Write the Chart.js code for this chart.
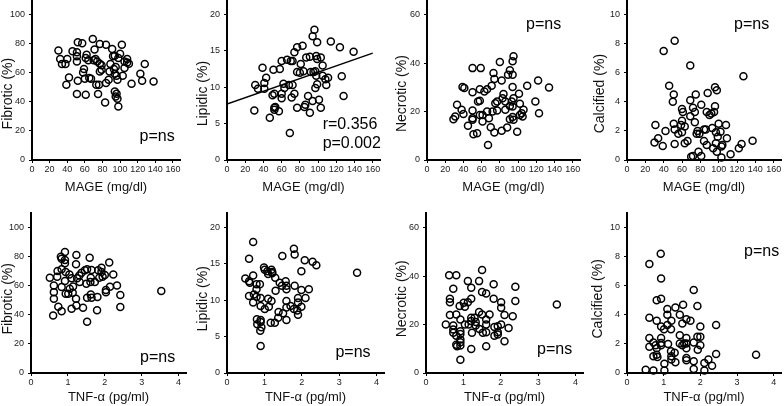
<!DOCTYPE html>
<html>
<head>
<meta charset="utf-8">
<script src="https://cdn.jsdelivr.net/npm/chart.js@4.4.1/dist/chart.umd.min.js"></script>
<style>
body { margin: 0; background: #fff; width: 784px; height: 406px; position: relative; overflow: hidden; }
canvas { position: absolute; }
</style>
</head>
<body>
<canvas id="c1"></canvas><canvas id="c2"></canvas><canvas id="c3"></canvas><canvas id="c4"></canvas>
<canvas id="c5"></canvas><canvas id="c6"></canvas><canvas id="c7"></canvas><canvas id="c8"></canvas>
<script>
// MAGE (mg/dl) vs plaque composition
var fibMageX = [30,32,34,38,40,39,42,46,51,51,51,52,57,52,51,58,59,61,60,62,61,64,65,67,69,70,72,71,74,77,77,73,76,75,77,79,79,84,84,83,87,88,89,91,92,94,93,95,94,94,95,96,97,96,97,98,98,100,102,103,105,105,108,108,110,113,123,125,128,138];
var fibMageY = [75.2,69.4,66,66,69.4,51.7,56.8,74.7,74,71.3,67.8,80.9,80.2,54.5,45.3,60.2,62.5,44.8,55.9,72.4,70.1,68.5,56.3,55.9,83.2,68.5,69.4,75.9,67.8,66.2,79.8,51.7,51.7,45.3,60.9,62.1,65.1,79.3,52.9,39.5,55.2,60.9,66,76.3,71.3,71.7,62.5,63.9,59.3,47.1,43.7,45.5,42.1,57.9,55.2,36.8,70.1,73.1,79.3,57.9,63.2,67.8,67.1,69.4,66.2,52.4,59.3,54.5,66,54];

var lipMageX = [30,31,34,39,41,41,43,47,51,50,52,52,52,53,57,58,60,60,60,62,63,66,68,70,72,72,69,71,74,74,77,77,80,77,81,83,84,85,86,87,89,91,91,92,94,96,95,94,97,97,98,99,99,98,99,101,103,103,105,105,108,109,111,114,124,126,128,139];
var lipMageY = [6.8,10.3,9.8,12.7,10.6,9.8,11.3,5.8,12.4,8.9,9.1,7.2,6.9,7.3,6.7,12.5,13.6,8.5,9.1,10.5,9.9,13.8,10.3,13.6,13.6,10.3,3.7,8.6,14.8,9.1,15.5,12.1,12,7.2,13.2,15.7,12.2,7.3,7.6,14.1,8.8,14.2,6.5,12.1,17,17.9,12.1,8.1,12.2,9.9,14.3,16.2,13.9,11.6,10.4,8.3,14.1,7.2,13,11.6,11.1,10.3,11.3,16.3,15.5,11.5,8.8,14.9];
var lipFitX = [0, 160];
var lipFitY = [7.7, 14.7];

var necMageX = [29,31,33,38,39,41,40,45,50,50,50,50,50,51,55,56,58,58,59,58,61,61,63,66,66,68,67,70,71,72,73,74,74,75,77,77,80,82,83,84,82,86,86,88,89,91,91,91,94,95,94,94,93,94,95,95,94,99,101,102,102,104,105,106,110,119,122,123,134];
var necMageY = [16.8,17.9,22.8,20.7,30.1,29.7,19,14.1,37.9,27.9,20.4,17.2,16.6,10.6,11,24.1,24.4,18.6,37.9,29.2,18.6,15.9,28.3,29.2,20,17.2,6.2,13.5,30.6,20,35.9,33.4,11.3,23.4,24.1,20.4,40.4,32.8,25.5,27.2,12.1,24.1,20.7,13.4,35.2,37,22.3,16.8,40.7,42.8,35.2,30.1,24.1,22.1,25.5,16.6,17.7,11.7,27.3,23.2,18.6,19.3,17.9,20.7,30.6,24.1,32.8,19.3,29.9];

var calMageX = [30,31,34,39,40,42,46,50,51,51,52,52,52,56,59,60,61,60,60,63,63,66,69,69,69,70,72,72,74,74,75,76,77,79,78,81,81,84,84,86,87,87,88,90,92,93,94,95,96,96,97,98,97,98,99,100,102,103,103,104,108,109,113,122,125,127,137];
var calMageY = [1.2,2.4,1.5,0.97,7.5,2,5.1,4,4.5,2.5,2.1,1.1,8.2,1.8,2.4,3.5,3.3,2.7,1.9,2.3,1.15,1.3,6.5,4.1,3,0.23,0.28,3.6,3.3,2.6,4.5,1.8,2,1.8,0.57,0.28,3.8,2.1,1.3,2.1,1.03,3.3,4.6,3.1,3.2,2.2,0.8,3.3,3.7,5,1.9,4.8,1.15,0.57,1.6,2.5,1.95,0.92,0.18,1.03,2.4,1.5,0.4,0.8,1.1,5.75,1.33];

// TNF-a (pg/ml) vs plaque composition
var fibTnfX = [0.51,0.62,0.62,0.62,0.60,0.72,0.71,0.74,0.81,0.83,0.83,0.83,0.83,0.92,0.92,0.92,0.94,0.92,0.94,1.01,1.04,1.05,1.10,1.13,1.10,1.14,1.23,1.22,1.22,1.23,1.25,1.31,1.32,1.37,1.41,1.46,1.52,1.50,1.52,1.52,1.59,1.64,1.62,1.61,1.62,1.64,1.73,1.80,1.79,1.82,1.85,1.91,1.91,1.94,2.00,2.03,2.03,2.12,2.14,2.23,2.33,2.42,2.42,3.53];
var fibTnfY = [65.5,60.2,55.6,51,39.5,70.1,66.2,45.5,80,78.6,59.1,42.5,71.3,83.2,77.7,75.4,69.4,63.2,54.5,54.5,67.8,57.9,65.1,55.2,44.1,59.5,81.1,74.7,51,46.4,65.1,67.1,62.5,69,44.8,70.6,71.3,61.4,51.7,35.2,79.3,70.8,65.5,62.5,54,51.7,62.5,52.2,43.2,70.6,65.5,72.4,69.4,66.2,67.4,57,55.6,75.9,59.3,67.8,60.2,53.6,45.3,56.3];

var lipTnfX = [0.49,0.59,0.61,0.59,0.59,0.70,0.70,0.72,0.70,0.79,0.79,0.79,0.80,0.81,0.88,0.90,0.90,0.90,0.90,0.92,0.89,0.90,0.99,1.01,1.01,1.08,1.10,1.12,1.10,1.19,1.21,1.17,1.19,1.21,1.28,1.29,1.30,1.38,1.37,1.41,1.48,1.47,1.50,1.57,1.59,1.59,1.59,1.59,1.59,1.70,1.79,1.79,1.81,1.81,1.88,1.90,1.90,1.90,1.99,1.99,1.99,2.08,2.10,2.19,2.29,2.39,3.48];
var lipTnfY = [13,12.6,12.4,15.7,10.6,18,13.4,10.8,9.7,12.2,11.5,10.5,7.4,6.7,12.2,10.3,9.2,7.3,7,6.3,5.8,3.7,14.5,14.2,8.8,14,10.2,9.1,13.6,14.2,13.9,6.9,9.9,13.7,6.9,13.1,11.3,8.4,7.6,12.4,16.1,12,8.2,12.6,12,11.5,9.9,9,7.3,9.2,8.8,17.1,16.3,12,8.6,10.3,9.7,8,14,11.4,9.1,15.5,10.3,11.5,15.3,14.8,13.8];

var necTnfX = [0.53,0.62,0.64,0.64,0.64,0.73,0.73,0.73,0.73,0.81,0.81,0.81,0.81,0.83,0.90,0.92,0.92,0.92,0.92,0.92,0.92,0.92,1.01,1.04,1.04,1.12,1.12,1.14,1.21,1.21,1.21,1.21,1.23,1.21,1.30,1.33,1.33,1.42,1.42,1.43,1.50,1.50,1.50,1.52,1.61,1.61,1.61,1.61,1.61,1.70,1.81,1.81,1.83,1.83,1.92,1.92,1.92,2.01,2.01,2.01,2.10,2.10,2.21,2.32,2.39,2.39,3.50];
var necTnfY = [20,40.3,30.6,29.2,23.9,34.8,19.6,17.9,16.6,40.3,24.1,15.4,11.7,11,27.6,22.1,17.2,16.1,13.8,12.7,11.3,5.5,29,27.3,20,37.9,29.2,20,35.2,30.6,22.8,21.4,16.6,9.9,22.8,21,19.6,25.2,37.9,18.2,42.5,33.4,24.1,16.6,32.8,22.1,20,16.8,11,24.1,30.6,36.6,19,15.4,19.3,16.8,15.9,29.2,26.9,20,23.9,13.1,18.6,23.4,35.6,29.7,28.3];

var calTnfX = [0.51,0.61,0.61,0.61,0.61,0.72,0.72,0.72,0.78,0.81,0.81,0.81,0.81,0.83,0.92,0.93,0.93,0.93,0.93,0.93,0.93,1.01,1.02,1.02,1.10,1.10,1.10,1.12,1.21,1.20,1.20,1.21,1.21,1.30,1.32,1.32,1.44,1.44,1.44,1.51,1.53,1.51,1.56,1.62,1.62,1.62,1.62,1.62,1.62,1.73,1.82,1.82,1.82,1.82,1.92,1.92,1.93,2.00,2.00,2.00,2.11,2.11,2.22,2.32,2.43,2.43,3.52];
var calTnfY = [0.23,7.5,3.8,2.4,1.8,2.1,1.15,0.18,1.9,5,3.6,1.7,1.26,1.1,8.2,6.5,5.1,3.2,2.4,2.07,1.9,3,0.64,0.18,4.4,4,3.3,2,3.6,3,1.5,1.15,0.92,1.4,0.74,4.5,4,2.6,2.02,1.9,4.7,3.4,2.02,3.7,2.4,2.02,1.7,1.03,0.87,3.6,5.7,2.1,0.8,0.28,4.6,2.5,1.6,3.2,2.5,1.9,0.69,0.18,0.92,0.5,3.3,1.3,1.26];

var mageTicks = [0, 20, 40, 60, 80, 100, 120, 140, 160];
var tnfTicks = [0, 1, 2, 3, 4];

var FONT = 'Arial, "Liberation Sans", sans-serif';

function toPoints(xs, ys) {
    return xs.map(function(x, i) { return {x: x, y: ys[i]}; });
}

// p-values and r written inside the plot, placed in data units
var notePlugin = {
    id: 'notes',
    afterDatasetsDraw: function(chart, args, opts) {
        var ctx = chart.ctx;
        (opts.items || []).forEach(function(n) {
            ctx.save();
            ctx.font = '16px ' + FONT;
            ctx.fillStyle = '#000';
            ctx.textAlign = n.align || 'center';
            ctx.textBaseline = 'middle';
            ctx.fillText(n.text, chart.scales.x.getPixelForValue(n.x), chart.scales.y.getPixelForValue(n.y));
            ctx.restore();
        });
    }
};

var panels = [
    {id: 'c1', box: {l: 0, t: 0, w: 195, h: 200}, area: {left: 32, right: 180, top: 0, bottom: 160}, titleX: 8,
     xMax: 168, xTicks: mageTicks, yMax: 110, yStep: 20, yLast: 100, xTitle: 'MAGE (mg/dl)', yTitle: 'Fibrotic (%)',
     xs: fibMageX, ys: fibMageY, notes: [{text: 'p=ns', x: 142, y: 16}]},
    {id: 'c2', box: {l: 195, t: 0, w: 195, h: 200}, area: {left: 227, right: 380, top: 0, bottom: 160}, titleX: 203,
     xMax: 168, xTicks: mageTicks, yMax: 22, yStep: 5, yLast: 20, xTitle: 'MAGE (mg/dl)', yTitle: 'Lipidic (%)',
     xs: lipMageX, ys: lipMageY, fitX: lipFitX, fitY: lipFitY,
     notes: [{text: 'r=0.356', x: 105, y: 4.8, align: 'left'}, {text: 'p=0.002', x: 105, y: 2.3, align: 'left'}]},
    {id: 'c3', box: {l: 390, t: 0, w: 195, h: 200}, area: {left: 427, right: 580, top: 0, bottom: 160}, titleX: 402.5,
     xMax: 168, xTicks: mageTicks, yMax: 66, yStep: 20, yLast: 60, xTitle: 'MAGE (mg/dl)', yTitle: 'Necrotic (%)',
     xs: necMageX, ys: necMageY, notes: [{text: 'p=ns', x: 128, y: 55.7}]},
    {id: 'c4', box: {l: 585, t: 0, w: 199, h: 200}, area: {left: 627, right: 781, top: 0, bottom: 160}, titleX: 600,
     xMax: 168, xTicks: mageTicks, yMax: 11, yStep: 2, yLast: 10, xTitle: 'MAGE (mg/dl)', yTitle: 'Calcified (%)',
     xs: calMageX, ys: calMageY, notes: [{text: 'p=ns', x: 136, y: 9.3}]},
    {id: 'c5', box: {l: 0, t: 200, w: 195, h: 206}, area: {left: 31, right: 186, top: 213, bottom: 373}, titleX: 7.5,
     xMax: 4.2, xTicks: tnfTicks, yMax: 110, yStep: 20, yLast: 100, xTitle: 'TNF-α (pg/ml)', yTitle: 'Fibrotic (%)',
     xs: fibTnfX, ys: fibTnfY, notes: [{text: 'p=ns', x: 3.43, y: 10.3}]},
    {id: 'c6', box: {l: 195, t: 200, w: 195, h: 206}, area: {left: 227, right: 384, top: 213, bottom: 373}, titleX: 202.5,
     xMax: 4.2, xTicks: tnfTicks, yMax: 22, yStep: 5, yLast: 20, xTitle: 'TNF-α (pg/ml)', yTitle: 'Lipidic (%)',
     xs: lipTnfX, ys: lipTnfY, notes: [{text: 'p=ns', x: 3.37, y: 2.75}]},
    {id: 'c7', box: {l: 390, t: 200, w: 195, h: 206}, area: {left: 426, right: 583, top: 213, bottom: 373}, titleX: 402.5,
     xMax: 4.2, xTicks: tnfTicks, yMax: 66, yStep: 20, yLast: 60, xTitle: 'TNF-α (pg/ml)', yTitle: 'Necrotic (%)',
     xs: necTnfX, ys: necTnfY, notes: [{text: 'p=ns', x: 3.44, y: 9.5}]},
    {id: 'c8', box: {l: 585, t: 200, w: 199, h: 206}, area: {left: 627, right: 781, top: 213, bottom: 373}, titleX: 598.5,
     xMax: 4.2, xTicks: tnfTicks, yMax: 11, yStep: 2, yLast: 10, xTitle: 'TNF-α (pg/ml)', yTitle: 'Calcified (%)',
     xs: calTnfX, ys: calTnfY, notes: [{text: 'p=ns', x: 3.67, y: 8.34}]}
];

panels.forEach(function(p) {
    var cv = document.getElementById(p.id);
    cv.width = p.box.w;
    cv.height = p.box.h;
    cv.style.left = p.box.l + 'px';
    cv.style.top = p.box.t + 'px';

    var datasets = [{
        data: toPoints(p.xs, p.ys),
        pointStyle: 'circle',
        pointRadius: 3.5,
        pointBorderWidth: 1.5,
        borderColor: '#000',
        backgroundColor: 'rgba(255,255,255,0)',
        clip: false
    }];
    if (p.fitX) {
        datasets.push({
            type: 'line',
            data: toPoints(p.fitX, p.fitY),
            borderColor: '#000',
            borderWidth: 1.5,
            pointRadius: 0,
            fill: false
        });
    }

    // shift the y title a bit downward like in the original figure
    var spaces = p.box.t === 0 ? '       ' : '   ';

    new Chart(cv, {
        type: 'scatter',
        data: {datasets: datasets},
        options: {
            responsive: false,
            animation: false,
            layout: {
                autoPadding: false,
                padding: {top: p.area.top - p.box.t, right: p.box.l + p.box.w - p.area.right, left: 0, bottom: 0}
            },
            plugins: {legend: {display: false}, tooltip: {enabled: false}, notes: {items: p.notes}},
            scales: {
                x: {
                    type: 'linear', min: 0, max: p.xMax,
                    afterBuildTicks: function(s) { s.ticks = p.xTicks.map(function(v) { return {value: v}; }); },
                    afterFit: function(s) {
                        s.height = p.box.t + p.box.h - p.area.bottom;
                        s.paddingLeft = 0; s.paddingRight = 0;
                    },
                    grid: {drawOnChartArea: false, drawTicks: true, tickLength: 3, color: '#000', lineWidth: 1},
                    border: {display: true, color: '#000', width: 2},
                    ticks: {font: {size: 9, family: FONT}, color: '#222', padding: 1, maxRotation: 0, autoSkip: false},
                    title: {display: true, text: p.xTitle, font: {size: 13, family: FONT}, color: '#111', padding: {top: 0, bottom: p.box.t === 0 ? 5 : 1}}
                },
                y: {
                    type: 'linear', min: 0, max: p.yMax,
                    afterBuildTicks: function(s) {
                        var t = [];
                        for (var v = 0; v <= p.yLast; v += p.yStep) t.push({value: v});
                        s.ticks = t;
                    },
                    afterFit: function(s) {
                        s.width = p.area.left - p.box.l;
                        s.paddingTop = 0; s.paddingBottom = 0;
                    },
                    grid: {drawOnChartArea: false, drawTicks: true, tickLength: 3, color: '#000', lineWidth: 1},
                    border: {display: true, color: '#000', width: 2},
                    ticks: {font: {size: 9, family: FONT}, color: '#222', padding: 4, autoSkip: false},
                    title: {display: true, text: p.yTitle + spaces, font: {size: 14, family: FONT}, color: '#111',
                            padding: {top: Math.max(0, p.titleX - p.box.l - 8.4), bottom: 0}}
                }
            }
        },
        plugins: [notePlugin]
    });
});
</script>
</body>
</html>
